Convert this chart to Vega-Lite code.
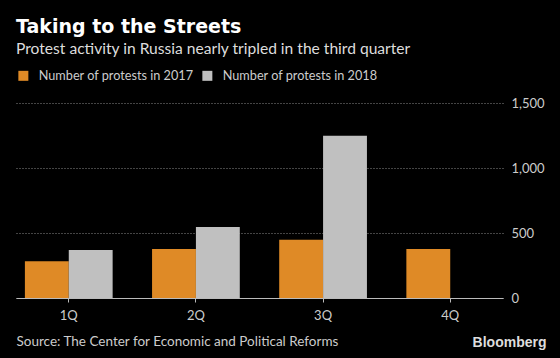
{
  "$schema": "https://vega.github.io/schema/vega-lite/v6.json",
  "width": 487,
  "height": 195,
  "autosize": {"type": "none"},
  "padding": {"left": 16, "top": 103, "right": 57, "bottom": 60},
  "background": "#000000",
  "title": {
    "text": "Taking to the Streets",
    "subtitle": "Protest activity in Russia nearly tripled in the third quarter",
    "anchor": "start",
    "frame": "group",
    "font": "DejaVu Sans",
    "fontSize": 19,
    "fontWeight": "bold",
    "color": "#ffffff",
    "subtitleFont": "Lato",
    "subtitleFontSize": 15.6,
    "subtitleColor": "#dddddd",
    "subtitlePadding": 5,
    "offset": 11
  },
  "data": {
    "values": [
      {"quarter": "1Q", "series": "Number of protests in 2017", "count": 282},
      {"quarter": "1Q", "series": "Number of protests in 2018", "count": 369},
      {"quarter": "2Q", "series": "Number of protests in 2017", "count": 377},
      {"quarter": "2Q", "series": "Number of protests in 2018", "count": 546},
      {"quarter": "3Q", "series": "Number of protests in 2017", "count": 448},
      {"quarter": "3Q", "series": "Number of protests in 2018", "count": 1248},
      {"quarter": "4Q", "series": "Number of protests in 2017", "count": 377}
    ]
  },
  "mark": {"type": "bar"},
  "encoding": {
    "x": {
      "field": "quarter",
      "type": "nominal",
      "sort": ["1Q", "2Q", "3Q", "4Q"],
      "scale": {"paddingInner": 0.31, "paddingOuter": 0.07},
      "axis": {
        "labelAngle": 0,
        "domain": true,
        "domainColor": "#bbbbbb",
        "domainWidth": 1,
        "ticks": true,
        "tickColor": "#bbbbbb",
        "tickSize": 4,
        "labelFont": "Lato",
        "labelFontSize": 13,
        "labelColor": "#cccccc",
        "labelPadding": 7,
        "grid": false,
        "title": "Source: The Center for Economic and Political Reforms",
        "titleAnchor": "start",
        "titleAlign": "left",
        "titleBaseline": "middle",
        "titleX": 0,
        "titleY": 43.7,
        "titleFont": "Lato",
        "titleFontSize": 13.5,
        "titleFontWeight": "normal",
        "titleColor": "#cccccc"
      }
    },
    "xOffset": {
      "field": "series",
      "type": "nominal",
      "scale": {"paddingInner": 0, "paddingOuter": 0}
    },
    "y": {
      "field": "count",
      "type": "quantitative",
      "scale": {"domain": [0, 1500]},
      "axis": {
        "orient": "right",
        "values": [0, 500, 1000, 1500],
        "format": ",d",
        "domain": false,
        "ticks": false,
        "grid": true,
        "gridDash": [1, 2],
        "gridColor": "#888888",
        "gridWidth": 1,
        "labelPadding": 8,
        "labelFont": "Lato",
        "labelFontSize": 13,
        "labelColor": "#cccccc",
        "title": "Bloomberg",
        "titleAngle": 0,
        "titleX": 43,
        "titleY": 239.7,
        "titleAlign": "right",
        "titleBaseline": "middle",
        "titleFont": "Liberation Sans",
        "titleFontSize": 14,
        "titleFontWeight": "bold",
        "titleColor": "#dddddd"
      }
    },
    "color": {
      "field": "series",
      "type": "nominal",
      "scale": {"range": ["#df8a26", "#c0c0c0"]},
      "legend": {
        "orient": "none",
        "legendX": 1,
        "legendY": -34,
        "direction": "horizontal",
        "title": null,
        "padding": 0,
        "symbolType": "square",
        "symbolSize": 100,
        "symbolStrokeWidth": 0,
        "symbolOpacity": 1,
        "labelFont": "Lato",
        "labelFontSize": 12.7,
        "labelColor": "#cccccc",
        "labelOffset": 9,
        "labelLimit": 400,
        "columnPadding": 7
      }
    }
  },
  "config": {"view": {"stroke": null}}
}
